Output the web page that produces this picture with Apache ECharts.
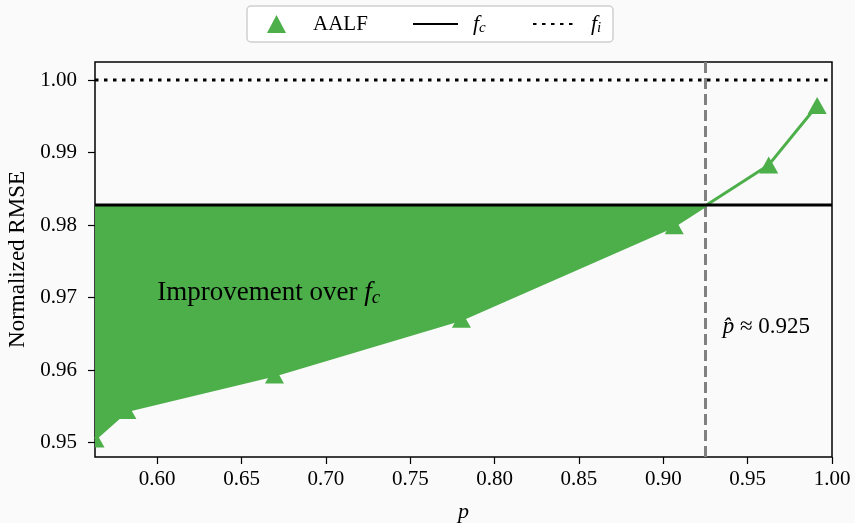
<!DOCTYPE html>
<html><head><meta charset="utf-8">
<script src="https://cdn.jsdelivr.net/npm/echarts@6/dist/echarts.min.js"></script>
<style>html,body{margin:0;padding:0;background:#fafafa}#c{width:855px;height:523px}</style>
</head><body><div id="c"></div>
<script>
// ---- data ----
const pValues   = [0.5631, 0.5820, 0.6695, 0.7803, 0.9065, 0.9625, 0.9912];
const rmseAALF  = [0.9505, 0.9544, 0.9593, 0.9670, 0.9799, 0.9883, 0.9965];
const fcValue   = 0.98277;
const fiValue   = 1.0;
const pHat      = 0.925;
const xTicks    = [0.60, 0.65, 0.70, 0.75, 0.80, 0.85, 0.90, 0.95, 1.00];
const yTicks    = [0.95, 0.96, 0.97, 0.98, 0.99, 1.00];
const xRange    = [pValues[0], 1.0];
const yRange    = [0.9480, 1.0025];
const annotText = 'Improvement over';
const pHatText  = '0.925';

const GREEN = '#4daf4a';
const FONT = 'Liberation Serif';
const TRI_W = 19, TRI_H = 17;

// fill polygon: region between AALF curve and f_c where AALF < f_c
const fillPoly = [];
for (let i = 0; i < pValues.length; i++) {
  if (rmseAALF[i] <= fcValue) { fillPoly.push([pValues[i], rmseAALF[i]]); }
  else {
    const x0 = pValues[i-1], y0 = rmseAALF[i-1], x1 = pValues[i], y1 = rmseAALF[i];
    const t = (fcValue - y0) / (y1 - y0);
    fillPoly.push([x0 + t * (x1 - x0), fcValue]);
    break;
  }
}
fillPoly.push([pValues[0], fcValue]);

const aalfData = pValues.map((p, i) => [p, rmseAALF[i]]);

const chart = echarts.init(document.getElementById('c'), null, {renderer: 'canvas'});
const legendText = {
  fontFamily: FONT, fontSize: 21, color: '#000', lineHeight: 24,
  rich: {
    t: {fontFamily: FONT, fontSize: 21, color: '#000', lineHeight: 24, padding: [0,0,0,22]},
    fi: {fontFamily: FONT, fontSize: 22, fontStyle: 'italic', color: '#000', lineHeight: 24, padding: [0,0,0,10]},
    fi2: {fontFamily: FONT, fontSize: 22, fontStyle: 'italic', color: '#000', lineHeight: 24, padding: [0,0,0,12]},
    s: {fontFamily: FONT, fontSize: 15, fontStyle: 'italic', color: '#000', lineHeight: 14, verticalAlign: 'bottom'}
  }
};
const noSym = {color: 'rgba(0,0,0,0)', borderColor: 'rgba(0,0,0,0)', borderWidth: 0, opacity: 0};
chart.setOption({
  backgroundColor: '#fafafa',
  animation: false,
  graphic: [{
    type: 'rect', z: 0, shape: {x: 247, y: 6, width: 366, height: 36, r: 4},
    style: {fill: '#ffffff', stroke: '#cfcfcf', lineWidth: 1.5}
  }],
  legend: [
    {left: 267, top: 12, padding: 0, z: 5, selectedMode: false, itemWidth: 19, itemHeight: 18,
     data: [{name: 'AALF', icon: 'triangle', itemStyle: {color: GREEN}}], textStyle: legendText,
     formatter: n => '{t|' + n + '}'},
    {left: 412, top: 12, padding: 0, z: 5, selectedMode: false, itemWidth: 45, itemHeight: 18,
     data: [{name: 'f_c', itemStyle: noSym}], textStyle: legendText, formatter: () => '{fi|f}{s|c}'},
    {left: 532, top: 12, padding: 0, z: 5, selectedMode: false, itemWidth: 41, itemHeight: 18,
     data: [{name: 'f_i', itemStyle: noSym}], textStyle: legendText, formatter: () => '{fi2|f}{s|i}'}
  ],
  grid: {left: 95, right: 23, top: 62, bottom: 66, show: true, borderColor: '#000', borderWidth: 1.5,
         backgroundColor: 'transparent', containLabel: false, outerBoundsMode: 'none'},
  xAxis: {
    type: 'value', min: xRange[0], max: xRange[1],
    axisLine: {show: false, onZero: false},
    axisTick: {show: true, customValues: xTicks, length: 7, lineStyle: {color: '#000', width: 1.2}},
    axisLabel: {customValues: xTicks, formatter: v => v.toFixed(2), fontFamily: FONT, fontSize: 21, color: '#000', margin: 12},
    splitLine: {show: false},
    name: 'p', nameLocation: 'middle', nameGap: 44,
    nameTextStyle: {fontFamily: FONT, fontSize: 22, fontStyle: 'italic', color: '#000'}
  },
  yAxis: {
    type: 'value', min: yRange[0], max: yRange[1],
    axisLine: {show: false, onZero: false},
    axisTick: {show: true, customValues: yTicks, length: 7, lineStyle: {color: '#000', width: 1.2}},
    axisLabel: {customValues: yTicks, formatter: v => v.toFixed(2), fontFamily: FONT, fontSize: 21, color: '#000', margin: 18},
    splitLine: {show: false},
    name: 'Normalized RMSE', nameLocation: 'middle', nameGap: 65, nameRotate: 90,
    nameTextStyle: {fontFamily: FONT, fontSize: 23, color: '#000'}
  },
  series: [
    {
      type: 'custom', name: 'fill', z: 1, clip: true,
      data: [fillPoly[0]],
      renderItem: (params, api) => ({
        type: 'polygon',
        shape: {points: fillPoly.map(v => api.coord(v))},
        style: {fill: GREEN}
      }),
      markPoint: {
        silent: true, symbol: 'circle', symbolSize: 0,
        data: [
          {coord: [0.600, 0.9707], label: {show: true, position: 'right', distance: 0,
            formatter: '{a|' + annotText + ' }{f|f}{s|c}',
            rich: {
              a: {fontFamily: FONT, fontSize: 27, color: '#000', lineHeight: 30},
              f: {fontFamily: FONT, fontSize: 27, fontStyle: 'italic', color: '#000', lineHeight: 30},
              s: {fontFamily: FONT, fontSize: 19, fontStyle: 'italic', color: '#000', lineHeight: 18, verticalAlign: 'bottom'}
            }}},
          {coord: [0.9352, 0.9659], label: {show: true, position: 'right', distance: 0,
            formatter: '{p|p\u0302}{a| \u2248 ' + pHatText + '}',
            rich: {
              p: {fontFamily: FONT, fontSize: 23, fontStyle: 'italic', color: '#000'},
              a: {fontFamily: FONT, fontSize: 23, color: '#000'}
            }}}
        ]
      }
    },
    {
      type: 'line', name: 'pHatLine', z: 2, data: [[pHat, yRange[0]], [pHat, yRange[1]]],
      symbol: 'none', silent: true,
      lineStyle: {color: '#808080', width: 3, type: [11, 5]}
    },
    {
      type: 'line', name: 'AALF', z: 3, data: aalfData,
      symbol: 'none', itemStyle: {color: GREEN}, lineStyle: {color: GREEN, width: 3},
      clip: true
    },
    {
      type: 'custom', name: 'AALF markers', z: 3, clip: true, data: aalfData,
      encode: {x: 0, y: 1},
      renderItem: (params, api) => {
        const c = api.coord([api.value(0), api.value(1)]);
        return {
          type: 'polygon',
          shape: {points: [[c[0], c[1] - TRI_H / 2], [c[0] - TRI_W / 2, c[1] + TRI_H / 2], [c[0] + TRI_W / 2, c[1] + TRI_H / 2]]},
          style: {fill: GREEN}
        };
      }
    },
    {
      type: 'line', name: 'f_c', z: 4, data: [[xRange[0], fcValue], [xRange[1], fcValue]],
      symbol: 'none', itemStyle: {color: '#000'}, lineStyle: {color: '#000', width: 3}
    },
    {
      type: 'line', name: 'f_i', z: 4, data: [[xRange[0], fiValue], [xRange[1], fiValue]],
      symbol: 'none', itemStyle: {color: '#000'}, lineStyle: {color: '#000', width: 3, type: [3.5, 5.5]}
    }
  ]
});
</script></body></html>
